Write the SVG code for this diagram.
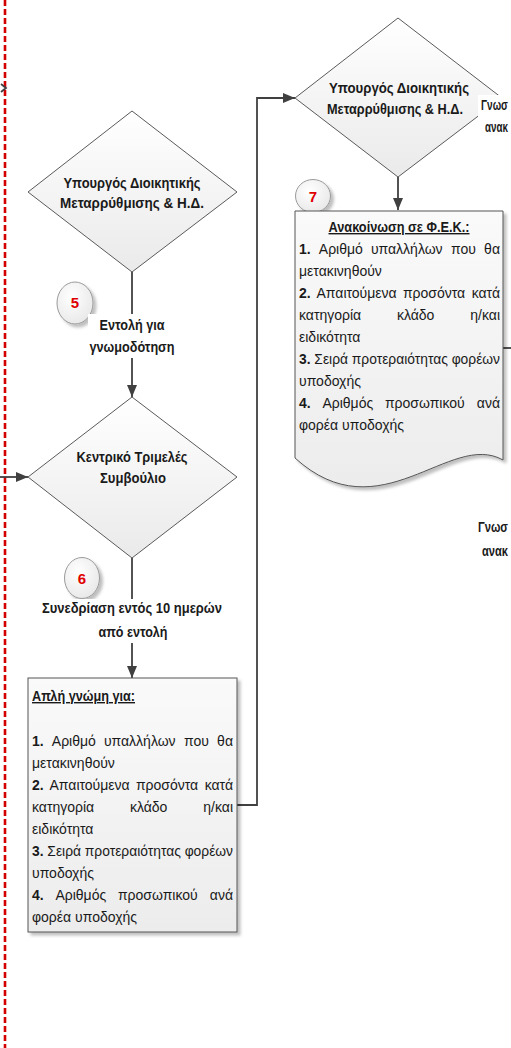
<svg xmlns="http://www.w3.org/2000/svg" width="511" height="1048" viewBox="0 0 511 1048">
<defs>
<linearGradient id="gDia" x1="0" y1="0" x2="0" y2="1"><stop offset="0" stop-color="#ffffff"/><stop offset="1" stop-color="#eaeaea"/></linearGradient>
<linearGradient id="gBox" x1="0" y1="0" x2="0" y2="1"><stop offset="0" stop-color="#fafafa"/><stop offset="1" stop-color="#ececec"/></linearGradient>
<radialGradient id="gCir" cx="0.4" cy="0.35" r="0.75"><stop offset="0" stop-color="#ffffff"/><stop offset="1" stop-color="#e6e6e6"/></radialGradient>
<filter id="sh" x="-10%" y="-10%" width="130%" height="130%"><feDropShadow dx="3" dy="3" stdDeviation="1.5" flood-color="#000" flood-opacity="0.25"/></filter>
<marker id="arr" viewBox="0 0 12 10" refX="12" refY="5" markerWidth="12" markerHeight="10" markerUnits="userSpaceOnUse" orient="auto"><path d="M0,0 L12,5 L0,10 z" fill="#404040"/></marker>
<style>
.dia{fill:url(#gDia);stroke:#5a5a5a;stroke-width:1}
.box{fill:url(#gBox);stroke:#555;stroke-width:1;filter:url(#sh)}
.cir{fill:url(#gCir);stroke:#9a9a9a;stroke-width:1;filter:url(#sh)}
.conn{fill:none;stroke:#404040;stroke-width:1.8}
.bg{fill:#fff}
.lbl{font-family:'Liberation Sans',sans-serif;font-weight:bold;font-size:15px;fill:#1a1a1a;text-anchor:middle}
.side{font-family:'Liberation Sans',sans-serif;font-weight:bold;font-size:14px;fill:#1a1a1a}
.body{font-family:'Liberation Sans',sans-serif;font-size:14px;fill:#1a1a1a}
.b{font-weight:bold}
.end{text-anchor:end}
.hdr{font-weight:bold;text-decoration:underline}
.num{font-family:'Liberation Sans',sans-serif;font-weight:bold;font-size:15px;fill:#e00000;text-anchor:middle}
</style>
</defs>
<rect width="511" height="1048" fill="#fff"/>
<line x1="5" y1="0" x2="5" y2="1048" stroke="#d40000" stroke-width="2.6" stroke-dasharray="6 3"/>
<g id="connectors">
<path class="conn" d="M1,84 L6,88 L1,92" stroke-width="1.2" stroke="#666"/>
<path class="conn" d="M132,272 V397" marker-end="url(#arr)"/>
<path class="conn" d="M132,558 V678" marker-end="url(#arr)"/>
<path class="conn" d="M237,805 H257 V98 H295" marker-end="url(#arr)"/>
<path class="conn" d="M398,177 V210" marker-end="url(#arr)"/>
<path class="conn" d="M0,477 H28" marker-end="url(#arr)"/>
<path class="conn" d="M503,348 H511"/>
</g>
<g id="n-diamond1">
<polygon class="dia" points="132,111 237,192 132,272 28,192"/>
<text class="lbl" x="132" y="188" textLength="137" lengthAdjust="spacingAndGlyphs">Υπουργός Διοικητικής</text>
<text class="lbl" x="132" y="208" textLength="144" lengthAdjust="spacingAndGlyphs">Μεταρρύθμισης &amp; Η.Δ.</text>
</g>
<g id="n-diamond2">
<polygon class="dia" points="132,397 237,477 132,558 28,477"/>
<text class="lbl" x="132" y="462" textLength="111" lengthAdjust="spacingAndGlyphs">Κεντρικό Τριμελές</text>
<text class="lbl" x="133" y="483" textLength="66" lengthAdjust="spacingAndGlyphs">Συμβούλιο</text>
</g>
<g id="n-diamond3">
<polygon class="dia" points="398,18 502,98 398,177 295,98"/>
<text class="lbl" x="399" y="93" textLength="140" lengthAdjust="spacingAndGlyphs">Υπουργός Διοικητικής</text>
<text class="lbl" x="395" y="114" textLength="136" lengthAdjust="spacingAndGlyphs">Μεταρρύθμισης &amp; Η.Δ.</text>
</g>
<g id="n-step5">
<ellipse class="cir" cx="75" cy="303" rx="18" ry="21"/>
<text class="num" x="75" y="308">5</text>
</g>
<g id="l-entoli">
<rect class="bg" x="88" y="314" width="88" height="44"/>
<text class="lbl" x="132" y="330" textLength="65" lengthAdjust="spacingAndGlyphs">Εντολή για</text>
<text class="lbl" x="132" y="352" textLength="85" lengthAdjust="spacingAndGlyphs">γνωμοδότηση</text>
</g>
<g id="n-step6">
<ellipse class="cir" cx="82" cy="578" rx="17.5" ry="20.5"/>
<text class="num" x="82" y="584">6</text>
</g>
<g id="l-synedriasi">
<rect class="bg" x="40" y="599" width="185" height="44"/>
<text class="lbl" x="132" y="613" textLength="180" lengthAdjust="spacingAndGlyphs">Συνεδρίαση εντός 10 ημερών</text>
<text class="lbl" x="133" y="637" textLength="69" lengthAdjust="spacingAndGlyphs">από εντολή</text>
</g>
<g id="n-step7">
<ellipse class="cir" cx="313" cy="196" rx="17.5" ry="16.5"/>
<text class="num" x="313" y="202">7</text>
</g>
<g id="l-gnost1">
<rect class="bg" x="478" y="95" width="33" height="42"/>
<text class="side" x="481" y="110" textLength="27" lengthAdjust="spacingAndGlyphs">Γνωσ</text>
<text class="side" x="485" y="132" textLength="23" lengthAdjust="spacingAndGlyphs">ανακ</text>
</g>
<g id="l-gnost2">
<text class="side" x="478" y="532" textLength="30" lengthAdjust="spacingAndGlyphs">Γνωσ</text>
<text class="side" x="482" y="556" textLength="26" lengthAdjust="spacingAndGlyphs">ανακ</text>
</g>
<g id="n-gnomi">
<rect class="box" x="28" y="678" width="209" height="254"/>
<text class="body hdr" x="32" y="701" textLength="103" lengthAdjust="spacingAndGlyphs">Απλή γνώμη για:</text>
<text class="body" y="746"><tspan class="b" x="32">1.</tspan><tspan x="51.8">Αριθμό</tspan><tspan x="103.9">υπαλλήλων</tspan><tspan x="184">που</tspan></text>
<text class="body end" x="233" y="746">θα</text>
<text class="body" x="32" y="768">μετακινηθούν</text>
<text class="body" y="790"><tspan class="b" x="32">2.</tspan><tspan x="49.5">Απαιτούμενα</tspan><tspan x="135.9">προσόντα</tspan></text>
<text class="body end" x="233" y="790">κατά</text>
<text class="body" y="812"><tspan x="32">κατηγορία</tspan><tspan x="129.9">κλάδο</tspan></text>
<text class="body end" x="233" y="812">η/και</text>
<text class="body" x="32" y="834">ειδικότητα</text>
<text class="body" x="32" y="856" textLength="201" lengthAdjust="spacingAndGlyphs"><tspan class="b">3.</tspan> Σειρά προτεραιότητας φορέων</text>
<text class="body" x="32" y="878">υποδοχής</text>
<text class="body" y="900"><tspan class="b" x="32">4.</tspan><tspan x="55.4">Αριθμός</tspan><tspan x="117.9">προσωπικού</tspan></text>
<text class="body end" x="233" y="900">ανά</text>
<text class="body" x="32" y="922">φορέα υποδοχής</text>
</g>
<g id="n-fek">
<path class="box" d="M295,211 H503 V460 C450,430 380,535 295,458 Z"/>
<text class="body hdr" x="399" y="232" text-anchor="middle" textLength="141" lengthAdjust="spacingAndGlyphs">Ανακοίνωση σε Φ.Ε.Κ.:</text>
<text class="body" y="254"><tspan class="b" x="299">1.</tspan><tspan x="318.8">Αριθμό</tspan><tspan x="370.9">υπαλλήλων</tspan><tspan x="451">που</tspan></text>
<text class="body end" x="500" y="254">θα</text>
<text class="body" x="299" y="276">μετακινηθούν</text>
<text class="body" y="298"><tspan class="b" x="299">2.</tspan><tspan x="316.5">Απαιτούμενα</tspan><tspan x="402.9">προσόντα</tspan></text>
<text class="body end" x="500" y="298">κατά</text>
<text class="body" y="320"><tspan x="299">κατηγορία</tspan><tspan x="396.9">κλάδο</tspan></text>
<text class="body end" x="500" y="320">η/και</text>
<text class="body" x="299" y="342">ειδικότητα</text>
<text class="body" x="299" y="364" textLength="201" lengthAdjust="spacingAndGlyphs"><tspan class="b">3.</tspan> Σειρά προτεραιότητας φορέων</text>
<text class="body" x="299" y="386">υποδοχής</text>
<text class="body" y="408"><tspan class="b" x="299">4.</tspan><tspan x="322.4">Αριθμός</tspan><tspan x="384.9">προσωπικού</tspan></text>
<text class="body end" x="500" y="408">ανά</text>
<text class="body" x="299" y="430">φορέα υποδοχής</text>
</g>
</svg>
